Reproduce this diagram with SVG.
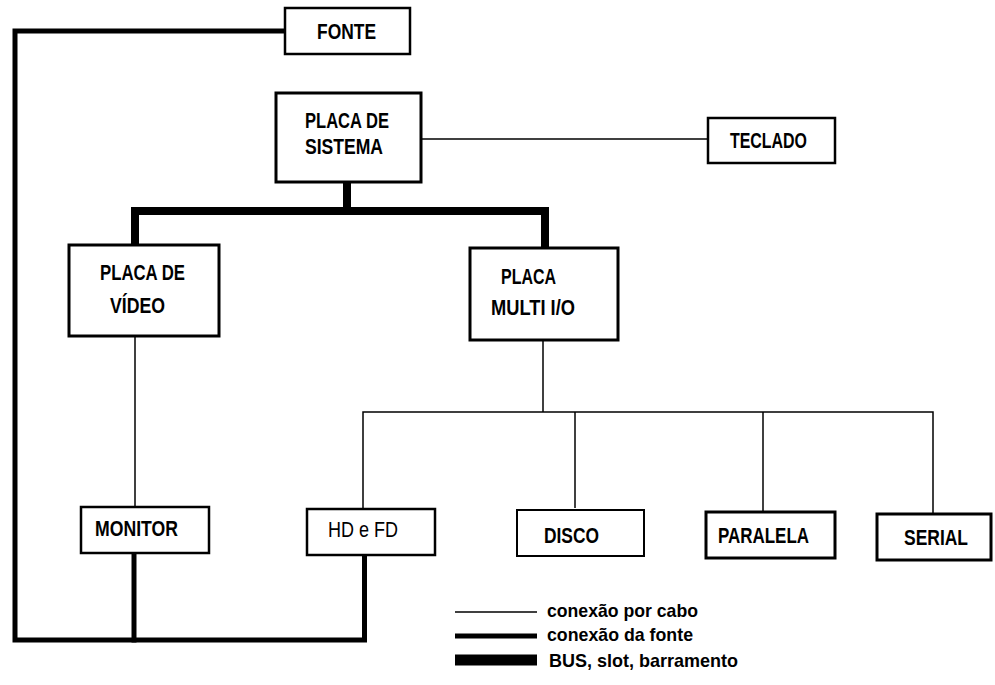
<svg xmlns="http://www.w3.org/2000/svg" width="995" height="685" viewBox="0 0 995 685">
<style>
.box{fill:#fff;stroke:#000;stroke-width:2.5}
.bx3{fill:#fff;stroke:#000;stroke-width:3}
.lbl{font-family:"Liberation Sans","Arial",sans-serif;font-weight:bold;font-size:22px;fill:#000}
.leg{font-family:"Liberation Sans","Arial",sans-serif;font-weight:bold;font-size:19px;fill:#000}
.cable{fill:none;stroke:#000;stroke-width:1.5}
.power{fill:none;stroke:#000;stroke-width:5;stroke-linejoin:miter;stroke-linecap:square}
.bus{fill:none;stroke:#000;stroke-width:8;stroke-linejoin:miter;stroke-linecap:butt}
</style>
<rect width="995" height="685" fill="#fff"/>
<g id="connectors">
  <path class="power" d="M285,31 H15 V640 H364.5 V555"/>
  <path class="power" d="M134,553 V640"/>
  <path class="bus" d="M347,182 V211"/>
  <path class="bus" d="M135,245 V211 H545 V248"/>
  <path class="cable" d="M421,139 H708"/>
  <path class="cable" d="M135,336 V507"/>
  <path class="cable" d="M543,340 V412"/>
  <path class="cable" d="M363,509 V412 H933 V514"/>
  <path class="cable" d="M575,412 V508"/>
  <path class="cable" d="M763,412 V512"/>
</g>
<g id="fonte">
  <rect class="box" x="285" y="8" width="125" height="46"/>
  <text class="lbl" x="317" y="39" textLength="59" lengthAdjust="spacingAndGlyphs">FONTE</text>
</g>
<g id="placa-sistema">
  <rect class="bx3" x="276" y="93" width="145" height="89"/>
  <text class="lbl" x="305" y="128" textLength="84" lengthAdjust="spacingAndGlyphs">PLACA DE</text>
  <text class="lbl" x="305" y="154" textLength="78" lengthAdjust="spacingAndGlyphs">SISTEMA</text>
</g>
<g id="teclado">
  <rect class="box" x="708" y="118" width="127" height="45"/>
  <text class="lbl" x="730" y="148" textLength="77" lengthAdjust="spacingAndGlyphs">TECLADO</text>
</g>
<g id="placa-video">
  <rect class="bx3" x="69" y="245" width="150" height="91"/>
  <text class="lbl" x="100" y="280" textLength="85" lengthAdjust="spacingAndGlyphs">PLACA DE</text>
  <text class="lbl" x="110" y="313" textLength="55" lengthAdjust="spacingAndGlyphs">VÍDEO</text>
</g>
<g id="placa-multi">
  <rect class="bx3" x="470" y="248" width="148" height="92"/>
  <text class="lbl" x="501" y="284" textLength="55" lengthAdjust="spacingAndGlyphs">PLACA</text>
  <text class="lbl" x="491" y="315" textLength="84" lengthAdjust="spacingAndGlyphs">MULTI I/O</text>
</g>
<g id="monitor">
  <rect class="box" x="81" y="507" width="128" height="46"/>
  <text class="lbl" x="95" y="536" textLength="83" lengthAdjust="spacingAndGlyphs">MONITOR</text>
</g>
<g id="hd-fd">
  <rect class="box" x="307" y="509" width="128" height="46"/>
  <text class="lbl" x="328" y="537" textLength="70" lengthAdjust="spacingAndGlyphs" style="font-weight:normal">HD e FD</text>
</g>
<g id="disco">
  <rect class="box" x="517" y="510" width="127" height="46" style="stroke-width:2"/>
  <text class="lbl" x="544" y="543" textLength="55" lengthAdjust="spacingAndGlyphs">DISCO</text>
</g>
<g id="paralela">
  <rect class="bx3" x="706" y="512" width="129" height="46"/>
  <text class="lbl" x="718" y="543" textLength="91" lengthAdjust="spacingAndGlyphs">PARALELA</text>
</g>
<g id="serial">
  <rect class="bx3" x="877" y="514" width="114" height="46"/>
  <text class="lbl" x="904" y="545" textLength="64" lengthAdjust="spacingAndGlyphs">SERIAL</text>
</g>
<g id="legend">
  <line x1="455" y1="612" x2="537" y2="612" stroke="#000" stroke-width="1.5"/>
  <line x1="455" y1="636" x2="537" y2="636" stroke="#000" stroke-width="5"/>
  <line x1="455" y1="660" x2="537" y2="660" stroke="#000" stroke-width="11"/>
  <text class="leg" x="547" y="617" textLength="151" lengthAdjust="spacingAndGlyphs">conexão por cabo</text>
  <text class="leg" x="547" y="641" textLength="146" lengthAdjust="spacingAndGlyphs">conexão da fonte</text>
  <text class="leg" x="549" y="667" textLength="189" lengthAdjust="spacingAndGlyphs">BUS, slot, barramento</text>
</g>
</svg>
